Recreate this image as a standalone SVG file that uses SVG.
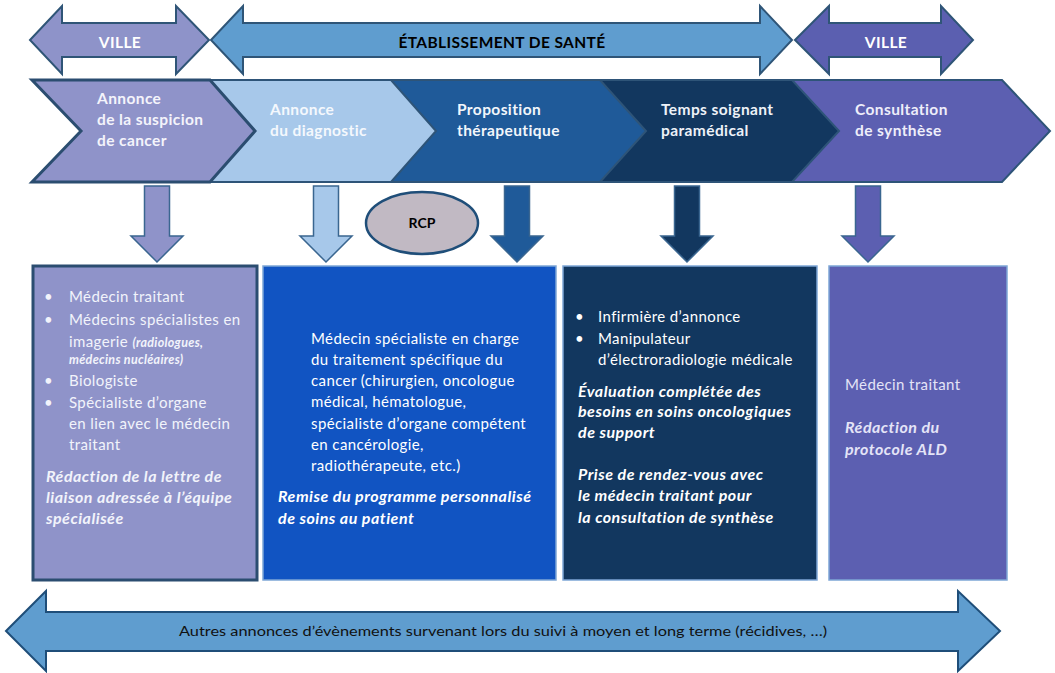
<svg xmlns="http://www.w3.org/2000/svg" width="1055" height="673" viewBox="0 0 1055 673">
<style>
text{font-family:Lato,"Liberation Sans",sans-serif;}
.hd{font-weight:bold;font-size:15.5px;letter-spacing:0.4px;}
.t{font-size:15px;letter-spacing:0.4px;}
.bi{font-size:16px;font-weight:bold;font-style:italic;letter-spacing:0.5px;}
.sm{font-size:12.5px;font-style:italic;font-weight:bold;letter-spacing:0.3px;}
.arr{stroke:#2f5577;stroke-width:2;stroke-linejoin:miter;}
.chev{stroke:#2e5478;stroke-width:2;}
.down{stroke:#3a6690;stroke-width:1.5;}
.box{stroke:#7ea6d6;stroke-width:1.5;}
</style>
<g id="ville-left">
<polygon class="arr" fill="#8e93c9" points="30,40 62,6 62,23 176,23 176,6 209,40 176,74 176,57 62,57 62,74"/>
<text class="hd" x="120" y="48" fill="#ffffff" text-anchor="middle">VILLE</text>
</g>
<g id="etablissement">
<polygon class="arr" fill="#5f9dcf" points="211,40 243,6 243,23 760,23 760,6 792,40 760,74 760,57 243,57 243,74"/>
<text class="hd" x="502" y="48" fill="#000000" text-anchor="middle" letter-spacing="0.2">ÉTABLISSEMENT DE SANTÉ</text>
</g>
<g id="ville-right">
<polygon class="arr" fill="#5b5fb0" points="795,40 829,6 829,23 941,23 941,6 973,40 941,74 941,57 829,57 829,74"/>
<text class="hd" x="886" y="48" fill="#ffffff" text-anchor="middle">VILLE</text>
</g>
<g id="chevron-5">
<polygon class="chev" fill="#5c5fb1" points="780,80 1002,80 1050,131 1002,182 780,182"/>
<text class="hd" fill="#eeeefa"><tspan x="855" y="115">Consultation</tspan><tspan x="855" y="136">de synthèse</tspan></text>
</g>
<g id="chevron-4">
<polygon class="chev" fill="#12375f" points="590,80 792,80 839,131 792,182 590,182"/>
<text class="hd" fill="#eef2f8"><tspan x="661" y="115">Temps soignant</tspan><tspan x="661" y="136">paramédical</tspan></text>
</g>
<g id="chevron-3">
<polygon class="chev" fill="#1f5a99" points="380,80 600,80 646,131 600,182 380,182"/>
<text class="hd" fill="#f2f6fb"><tspan x="457" y="115">Proposition</tspan><tspan x="457" y="136">thérapeutique</tspan></text>
</g>
<g id="chevron-2">
<polygon class="chev" fill="#a7c8ea" points="200,80 391,80 436,131 391,182 200,182"/>
<text class="hd" fill="#f4f8fd"><tspan x="270" y="115">Annonce</tspan><tspan x="270" y="136">du diagnostic</tspan></text>
</g>
<g id="chevron-1">
<polygon fill="#8f93c9" stroke="#2b4d70" stroke-width="3" points="32,80 210,80 255,131 210,182 32,182 81,131"/>
<text class="hd" fill="#f4f4fb"><tspan x="97" y="104">Annonce</tspan><tspan x="97" y="125">de la suspicion</tspan><tspan x="97" y="146">de cancer</tspan></text>
</g>
<g id="connectors">
<polygon class="down" fill="#8f93c9" points="144.5,186 169.5,186 169.5,236 183,236 157,262 131,236 144.5,236"/>
<polygon class="down" fill="#a7c8ea" points="313.5,186 338.5,186 338.5,236 352,236 326,262 300,236 313.5,236"/>
<polygon class="down" fill="#1f5a99" points="504.5,186 529.5,186 529.5,236 543,236 517,262 491,236 504.5,236"/>
<polygon class="down" fill="#12375f" points="674.5,186 699.5,186 699.5,236 713,236 687,262 661,236 674.5,236"/>
<polygon class="down" fill="#5c5fb1" points="855.5,186 880.5,186 880.5,236 894,236 868,262 842,236 855.5,236"/>
</g>
<g id="rcp">
<ellipse cx="422" cy="223" rx="56" ry="31" fill="#c1b9c3" stroke="#1f4e79" stroke-width="2.5"/>
<text x="422" y="228" font-size="14" font-weight="bold" fill="#000" text-anchor="middle">RCP</text>
</g>
<g id="box-1">
<rect x="33" y="266" width="224" height="314" fill="#8f93c9" stroke="#2b4d70" stroke-width="3"/>
<g fill="#f2f3fb">
<text class="t" x="44" y="302">•</text><text class="t" x="69" y="302">Médecin traitant</text>
<text class="t" x="44" y="325">•</text><text class="t" x="69" y="325">Médecins spécialistes en</text>
<text class="t" x="69" y="347">imagerie <tspan class="sm">(radiologues,</tspan></text>
<text class="sm" x="69" y="364">médecins nucléaires)</text>
<text class="t" x="44" y="386">•</text><text class="t" x="69" y="386">Biologiste</text>
<text class="t" x="44" y="408">•</text><text class="t" x="69" y="408">Spécialiste d’organe</text>
<text class="t" x="69" y="429">en lien avec le médecin</text>
<text class="t" x="69" y="450">traitant</text>
<text class="bi"><tspan x="46" y="482">Rédaction de la lettre de</tspan><tspan x="46" y="503">liaison adressée à l’équipe</tspan><tspan x="46" y="524">spécialisée</tspan></text>
</g>
</g>
<g id="box-2">
<rect class="box" x="263" y="266" width="293" height="314" fill="#1154c2"/>
<g fill="#ffffff">
<text class="t"><tspan x="311" y="344">Médecin spécialiste en charge</tspan><tspan x="311" y="365">du traitement spécifique du</tspan><tspan x="311" y="386">cancer (chirurgien, oncologue</tspan><tspan x="311" y="407">médical, hématologue,</tspan><tspan x="311" y="429">spécialiste d’organe compétent</tspan><tspan x="311" y="450">en cancérologie,</tspan><tspan x="311" y="471">radiothérapeute, etc.)</tspan></text>
<text class="bi"><tspan x="278" y="502">Remise du programme personnalisé</tspan><tspan x="278" y="524">de soins au patient</tspan></text>
</g>
</g>
<g id="box-3">
<rect class="box" x="563" y="266" width="254" height="314" fill="#12375f"/>
<g fill="#ffffff">
<text class="t" x="575" y="322">•</text><text class="t" x="598" y="322">Infirmière d’annonce</text>
<text class="t" x="575" y="344">•</text><text class="t" x="598" y="344">Manipulateur</text>
<text class="t" x="598" y="365">d’électroradiologie médicale</text>
<text class="bi"><tspan x="578" y="397">Évaluation complétée des</tspan><tspan x="578" y="417">besoins en soins oncologiques</tspan><tspan x="578" y="438">de support</tspan><tspan x="578" y="480">Prise de rendez-vous avec</tspan><tspan x="578" y="501">le médecin traitant pour</tspan><tspan x="578" y="523">la consultation de synthèse</tspan></text>
</g>
</g>
<g id="box-4">
<rect class="box" x="829" y="266" width="178" height="314" fill="#5c5fb1"/>
<g fill="#e4e4f7">
<text class="t" x="845" y="390">Médecin traitant</text>
<text class="bi"><tspan x="845" y="433">Rédaction du</tspan><tspan x="845" y="455">protocole ALD</tspan></text>
</g>
</g>
<g id="bottom-arrow">
<polygon fill="#5f9dcf" stroke="#1f4e79" stroke-width="2" points="6,631 46,591 46,612 958,612 958,591 1000,631 958,671 958,651 46,651 46,671"/>
<text x="503" y="636" font-size="13.5" fill="#111" text-anchor="middle" textLength="648" lengthAdjust="spacingAndGlyphs">Autres annonces d’évènements survenant lors du suivi à moyen et long terme (récidives, …)</text>
</g>
</svg>
